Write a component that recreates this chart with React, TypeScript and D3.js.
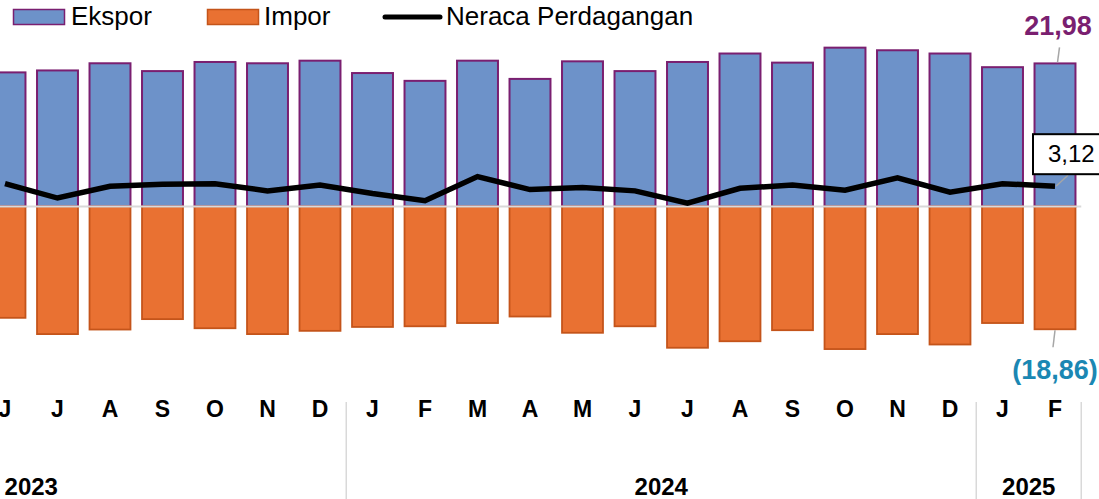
import React from "react";
import * as d3 from "d3";

// Months Jan 2023 .. Feb 2025 (Jan–May 2023 are outside the visible frame)
const categories: string[] = [
  "2023-01","2023-02","2023-03","2023-04","2023-05","2023-06","2023-07","2023-08","2023-09","2023-10","2023-11","2023-12",
  "2024-01","2024-02","2024-03","2024-04","2024-05","2024-06","2024-07","2024-08","2024-09","2024-10","2024-11","2024-12",
  "2025-01","2025-02",
];
const monthInitials = ["J","F","M","A","M","J","J","A","S","O","N","D"];
const years = ["2023", "2024", "2025"];

// USD billion
const ekspor: (number | null)[] = [
  null, null, null, null, null, 20.6, 20.9, 22.0, 20.8, 22.2, 22.0, 22.4,
  20.5, 19.3, 22.4, 19.6, 22.3, 20.8, 22.2, 23.5, 22.1, 24.4, 24.0, 23.5,
  21.4, 21.98,
];
const impor: (number | null)[] = [
  null, null, null, null, null, 17.1, 19.6, 18.9, 17.3, 18.7, 19.6, 19.1,
  18.5, 18.4, 17.9, 16.9, 19.4, 18.4, 21.7, 20.7, 19.0, 21.9, 19.6, 21.2,
  17.9, 18.86,
];
const neraca: (number | null)[] = [
  null, null, null, null, null, 3.5, 1.3, 3.1, 3.4, 3.5, 2.4, 3.3,
  2.0, 0.9, 4.6, 2.6, 2.9, 2.4, 0.5, 2.8, 3.3, 2.5, 4.4, 2.2,
  3.5, 3.12,
];

const legendItems = ["Ekspor", "Impor", "Neraca Perdagangan"];

const W = 1099;
const H = 499;
const FONT = "'Liberation Sans', Arial, sans-serif";
const fmt = (v: number) => v.toFixed(2).replace(".", ",");

const BLUE = "#6d92c9";
const PURPLE = "#7a1f70";
const ORANGE = "#e97132";
const ORANGE_DARK = "#c4541a";
const TEAL = "#1b87b3";

export default function App() {
  const x = d3
    .scaleBand<string>()
    .domain(categories)
    .range([-283.75, 1081.25])
    .paddingInner(0.22)
    .paddingOuter(0.11);
  const step = x.step();
  const y = d3.scaleLinear().domain([-25, 25]).range([369.25, 43.75]);
  const cx = (c: string) => (x(c) as number) + x.bandwidth() / 2;

  const line = d3
    .line<number | null>()
    .defined((d) => d != null)
    .x((_, i) => cx(categories[i]))
    .y((d) => y(d as number));

  const last = categories.length - 1;
  const lastX = cx(categories[last]);

  // year groups
  const groups = years.map((yr) => {
    const idx = categories.map((c, i) => (c.startsWith(yr) ? i : -1)).filter((i) => i >= 0);
    const x0 = x(categories[idx[0]]) as number;
    const start = x0 - (step - x.bandwidth()) / 2;
    const end = start + idx.length * step;
    return { yr, start, end };
  });

  return (
    <svg
      width={W}
      height={H}
      style={{ position: "absolute", left: 0, top: 0, background: "#fff" }}
      fontFamily={FONT}
    >
      {/* Legend */}
      <g>
        <rect x={13.5} y={9.5} width={51} height={15} fill={BLUE} stroke={PURPLE} strokeWidth={1.5} />
        <text x={71} y={25} fontSize={26} fill="#000">{legendItems[0]}</text>
        <rect x={207.5} y={9.5} width={51} height={15} fill={ORANGE} stroke={ORANGE_DARK} strokeWidth={1.5} />
        <text x={264} y={25} fontSize={26} fill="#000">{legendItems[1]}</text>
        <line x1={385} x2={440} y1={17} y2={17} stroke="#000" strokeWidth={5} strokeLinecap="round" />
        <text x={446} y={25} fontSize={26} fill="#000">{legendItems[2]}</text>
      </g>

      {/* Bars */}
      {categories.map((c, i) =>
        ekspor[i] == null ? null : (
          <rect
            key={"e" + c}
            x={x(c)}
            y={y(ekspor[i] as number)}
            width={x.bandwidth()}
            height={y(0) - y(ekspor[i] as number)}
            fill={BLUE}
            stroke={PURPLE}
            strokeWidth={2}
          />
        )
      )}
      {categories.map((c, i) =>
        impor[i] == null ? null : (
          <rect
            key={"i" + c}
            x={x(c)}
            y={y(0)}
            width={x.bandwidth()}
            height={y(-(impor[i] as number)) - y(0)}
            fill={ORANGE}
            stroke={ORANGE_DARK}
            strokeWidth={1.8}
          />
        )
      )}

      {/* zero line */}
      <line x1={-300} x2={1081.25} y1={y(0)} y2={y(0)} stroke="#d9d9d9" strokeWidth={2} />

      {/* balance line */}
      <path d={line(neraca) || ""} fill="none" stroke="#000" strokeWidth={5.5} strokeLinejoin="miter" />

      {/* Data labels for last month */}
      <g>
        <line x1={lastX + 2.5} y1={y(ekspor[last] as number) - 1} x2={lastX + 4.5} y2={y(ekspor[last] as number) - 16} stroke="#a6a6a6" strokeWidth={1.5} />
        <text x={lastX + 3} y={35} textAnchor="middle" fontSize={27} fontWeight="bold" fill={PURPLE}>
          {fmt(ekspor[last] as number)}
        </text>

        <line x1={lastX + 1} y1={y(neraca[last] as number)} x2={lastX + 13} y2={y(neraca[last] as number) - 11} stroke="#a6a6a6" strokeWidth={1.5} />
        <rect x={lastX - 22} y={y(neraca[last] as number) - 52} width={80} height={40} fill="#fff" stroke="#000" strokeWidth={2} />
        <text x={lastX - 7} y={y(neraca[last] as number) - 24} fontSize={24} fill="#000">
          {fmt(neraca[last] as number)}
        </text>

        <line x1={lastX} y1={y(-(impor[last] as number)) + 1} x2={lastX - 2} y2={y(-(impor[last] as number)) + 18} stroke="#a6a6a6" strokeWidth={1.5} />
        <text x={lastX} y={y(-(impor[last] as number)) + 50} textAnchor="middle" fontSize={27} fontWeight="bold" fill={TEAL}>
          ({fmt(impor[last] as number)})
        </text>
      </g>

      {/* X axis: months (only those inside the frame) */}
      {categories.map((c, i) => {
        if (ekspor[i] == null) return null;
        const m = parseInt(c.slice(5), 10) - 1;
        return (
          <text key={"m" + c} x={cx(c)} y={417} textAnchor="middle" fontSize={23} fontWeight="bold" fill="#000">
            {monthInitials[m]}
          </text>
        );
      })}
      {/* year groups */}
      {groups.map((g) => (
        <g key={g.yr}>
          <text x={(g.start + g.end) / 2} y={495} textAnchor="middle" fontSize={24} fontWeight="bold" fill="#000">
            {g.yr}
          </text>
          <line x1={g.end} x2={g.end} y1={402} y2={H} stroke="#d9d9d9" strokeWidth={1.5} />
        </g>
      ))}
    </svg>
  );
}
